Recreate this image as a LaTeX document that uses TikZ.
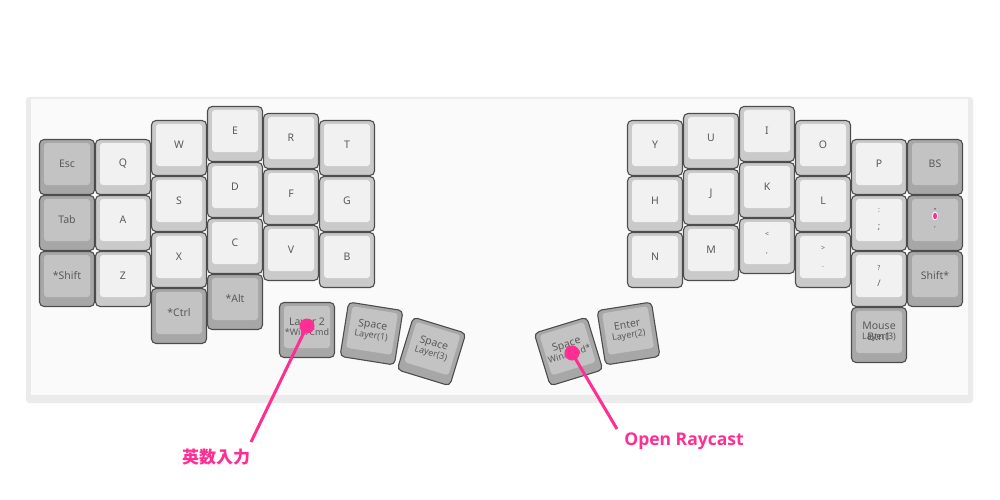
\documentclass[tikz,border=0pt]{standalone}
\usepackage{fontspec}
\usetikzlibrary{shapes.geometric}
\setmainfont{Noto Sans}
\newfontfamily\cjk{Noto Sans CJK JP}
\newfontfamily\lblfont{Open Sans}
\definecolor{lout}{HTML}{CACACA}
\definecolor{lin}{HTML}{F1F1F1}
\definecolor{dout}{HTML}{A7A7A7}
\definecolor{din}{HTML}{C3C3C3}
\definecolor{kbord}{HTML}{4D4D4D}
\definecolor{ktext}{HTML}{5A5A5A}
\definecolor{pink}{HTML}{FF2E93}
\definecolor{caseedge}{HTML}{EBEBEB}
\definecolor{casefill}{HTML}{FAFAFA}
\newcommand\sublg[1]{{\fontsize{9}{10}\selectfont #1}}
\newcommand\tinylg[1]{{\fontsize{7}{8}\selectfont #1}}
\newcommand\kkey[6]{%
  \begin{scope}[shift={(#2,#3)},rotate=#4,transform shape]
    \node[kout,#5] (#1) at (0,0) {};
    \node[kin,#5 top] (#1t) at (0,-3) {#6};
  \end{scope}}
\tikzset{
  kout/.style={draw=kbord, line width=1.1pt, rounded corners=4.5pt,
    minimum width=55pt, minimum height=55pt, inner sep=0pt},
  light/.style={fill=lout},
  dark/.style={fill=dout},
  kin/.style={rounded corners=3pt, minimum width=46pt, minimum height=42pt,
    inner sep=0pt, align=center, text=ktext, font=\fontsize{10.5}{12}\selectfont},
  light top/.style={fill=lin},
  dark top/.style={fill=din},
  pinkline/.style={draw=pink, line width=3pt},
  pinkdot/.style={circle, fill=pink, minimum size=15pt, inner sep=0pt},
}
\begin{document}
\begin{tikzpicture}[x=1pt,y=-1pt]
\useasboundingbox[fill=white] (0,0) rectangle (1000,500);
% case
\fill[caseedge, rounded corners=3pt] (26,97) rectangle (973,403);
\fill[casefill] (31,99) rectangle (968,395);
% left half
\kkey{esc}{67}{167}{0}{dark}{Esc}
\kkey{tab}{67}{223}{0}{dark}{Tab}
\kkey{lsh}{67}{279}{0}{dark}{*Shift}
\kkey{q}{123}{167}{0}{light}{Q}
\kkey{a}{123}{223}{0}{light}{A}
\kkey{z}{123}{279}{0}{light}{Z}
\kkey{w}{179}{148}{0}{light}{W}
\kkey{s}{179}{204}{0}{light}{S}
\kkey{x}{179}{260}{0}{light}{X}
\kkey{ctrl}{179}{316}{0}{dark}{*Ctrl}
\kkey{e}{235}{134}{0}{light}{E}
\kkey{d}{235}{190}{0}{light}{D}
\kkey{c}{235}{246}{0}{light}{C}
\kkey{alt}{235}{302}{0}{dark}{*Alt}
\kkey{r}{291}{141}{0}{light}{R}
\kkey{f}{291}{197}{0}{light}{F}
\kkey{v}{291}{253}{0}{light}{V}
\kkey{t}{347}{148}{0}{light}{T}
\kkey{g}{347}{204}{0}{light}{G}
\kkey{b}{347}{260}{0}{light}{B}
% left thumb
\kkey{ltwo}{307}{330}{0}{dark}{Layer 2\\[-2pt]\sublg{*Win/Cmd}}
\kkey{spone}{371.5}{333.5}{-9}{dark}{Space\\[-2pt]\sublg{Layer(1)}}
\kkey{spthree}{431.5}{351.5}{-17}{dark}{Space\\[-2pt]\sublg{Layer(3)}}
% right thumb
\kkey{spwin}{568.5}{351.5}{17}{dark}{Space\\[-2pt]\sublg{Win/Cmd*}}
\kkey{enter}{628.5}{333.5}{9}{dark}{Enter\\[-2pt]\sublg{Layer(2)}}
% right half
\kkey{y}{655}{148}{0}{light}{Y}
\kkey{h}{655}{204}{0}{light}{H}
\kkey{n}{655}{260}{0}{light}{N}
\kkey{u}{711}{141}{0}{light}{U}
\kkey{j}{711}{197}{0}{light}{J}
\kkey{m}{711}{253}{0}{light}{M}
\kkey{i}{767}{134}{0}{light}{I}
\kkey{k}{767}{190}{0}{light}{K}
\kkey{comma}{767}{246}{0}{light}{\tinylg{<}\\[5pt]\tinylg{,}}
\kkey{o}{823}{148}{0}{light}{O}
\kkey{l}{823}{204}{0}{light}{L}
\kkey{dot}{823}{260}{0}{light}{\tinylg{>}\\[5pt]\tinylg{.}}
\kkey{p}{879}{167}{0}{light}{P}
\kkey{semi}{879}{223}{0}{light}{\tinylg{:}\\[5pt]{\fontsize{9}{10}\selectfont ;}}
\kkey{slash}{879}{279}{0}{light}{\tinylg{?}\\[4pt]{\fontsize{9}{10}\selectfont /}}
\kkey{mouse}{879}{335}{0}{dark}{Mouse\\[-2pt]\sublg{Layer(3)}}
\node[kin, fill=none] (mousebtn) at (mouset) {\phantom{Mouse}\\[-2pt]Btn1};
\kkey{bs}{935}{167}{0}{dark}{BS}
\kkey{quote}{935}{223}{0}{dark}{\tinylg{"}\\[6pt]\tinylg{'}}
\node[ellipse, fill=pink, draw=white, line width=0.8pt, minimum width=5pt,
  minimum height=8pt, inner sep=0pt] (qmark) at (935,216) {};
\kkey{rsh}{935}{279}{0}{dark}{Shift*}
% annotations
\coordinate (e1) at (251,442);
\coordinate (e2) at (617,429);
\node[pinkdot] (d1) at (307,326) {};
\node[pinkdot] (d2) at (572,353) {};
\draw[pinkline] (d1.center) -- (e1);
\draw[pinkline] (d2.center) -- (e2);
\node[text=pink, font=\cjk\bfseries\fontsize{17}{20}\selectfont] (eisu) at (216,457) {英数入力};
\node[text=pink, font=\lblfont\bfseries\fontsize{17.5}{22}\selectfont] (ray) at (684,441) {Open Raycast};
\end{tikzpicture}
\end{document}
